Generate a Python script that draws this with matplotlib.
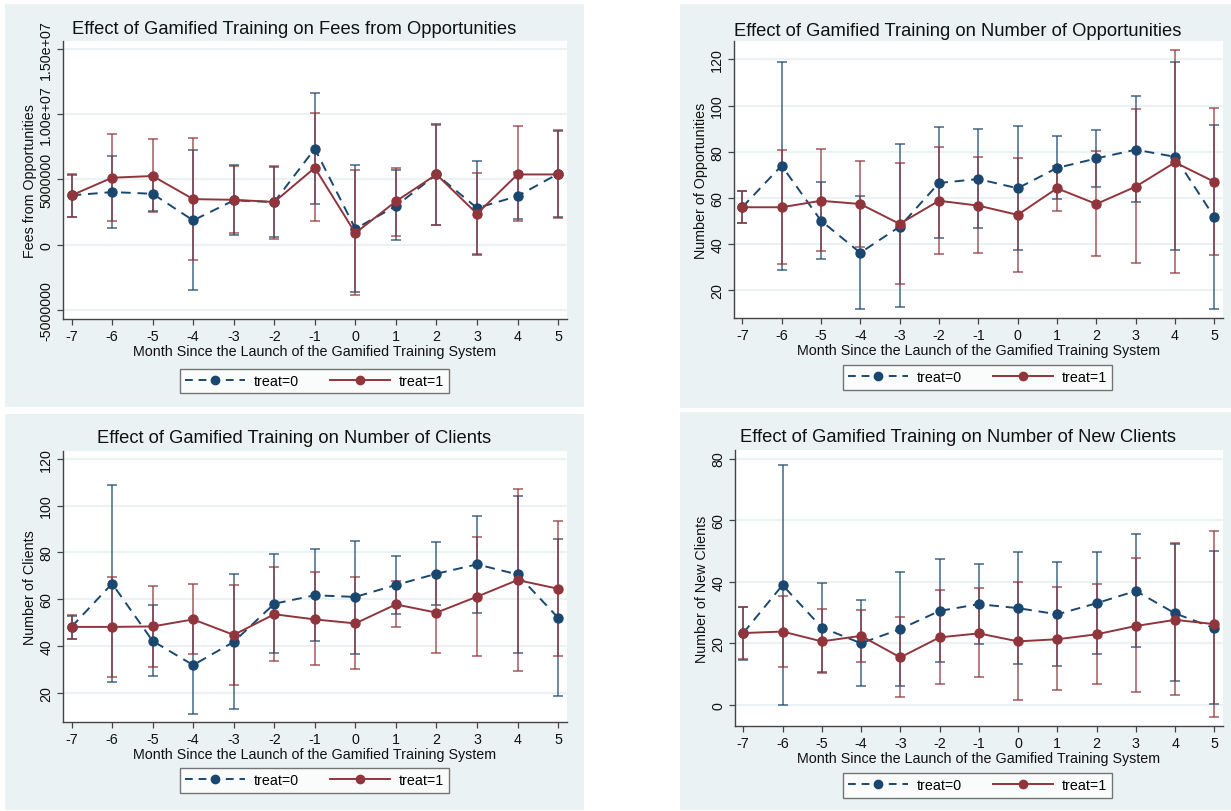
import matplotlib
matplotlib.use('Agg')
import matplotlib.pyplot as plt
from matplotlib.patches import Rectangle
from matplotlib.lines import Line2D

plt.rcParams['font.family'] = ['Liberation Sans', 'DejaVu Sans']

# ---- data ----
months = [-7, -6, -5, -4, -3, -2, -1, 0, 1, 2, 3, 4, 5]

# Fees from Opportunities
fees_t0 = [3.78e6, 4.03e6, 3.90e6, 1.86e6, 3.39e6, 3.27e6, 7.35e6, 1.22e6, 2.96e6, 5.38e6, 2.81e6, 3.72e6, 5.43e6]
fees_t0_lo = [2.12e6, 1.28e6, 2.55e6, -3.44e6, 0.71e6, 0.59e6, 3.09e6, -3.62e6, 0.33e6, 1.53e6, -0.77e6, 1.94e6, 2.12e6]
fees_t0_hi = [5.30e6, 6.79e6, 5.30e6, 7.22e6, 6.07e6, 5.94e6, 11.6e6, 6.12e6, 5.74e6, 9.26e6, 6.40e6, 5.56e6, 8.70e6]
fees_t1 = [3.78e6, 5.13e6, 5.26e6, 3.49e6, 3.44e6, 3.27e6, 5.89e6, 0.89e6, 3.32e6, 5.38e6, 2.37e6, 5.38e6, 5.38e6]
fees_t1_lo = [2.12e6, 1.79e6, 2.50e6, -1.15e6, 0.92e6, 0.46e6, 1.79e6, -3.88e6, 0.66e6, 1.53e6, -0.69e6, 1.79e6, 2.04e6]
fees_t1_hi = [5.43e6, 8.50e6, 8.06e6, 8.16e6, 6.02e6, 6.02e6, 10.1e6, 5.74e6, 5.89e6, 9.20e6, 5.51e6, 9.08e6, 8.75e6]

# Number of Opportunities
opp_t0 = [56, 74, 50.2, 36.3, 47.6, 66.5, 68.2, 64.2, 73, 77.1, 80.9, 77.8, 51.7]
opp_t0_lo = [49, 29, 33.7, 12.1, 12.8, 42.6, 46.9, 37.3, 59.6, 64.9, 58.1, 37.3, 11.8]
opp_t0_hi = [63, 118.8, 67, 60.7, 83.3, 90.5, 89.8, 91.2, 86.6, 89.5, 103.9, 118.8, 91.5]
opp_t1 = [56, 56, 58.8, 57.4, 48.8, 58.8, 56.7, 52.7, 64.2, 57.4, 64.9, 75.4, 67]
opp_t1_lo = [49.2, 31.5, 37, 38.7, 22.9, 35.8, 36.1, 28.2, 54.2, 34.7, 31.8, 27.5, 35.4]
opp_t1_hi = [63.2, 80.9, 81.2, 76.1, 75, 82.2, 77.8, 77.1, 74, 80.4, 98.4, 123.9, 98.8]

# Number of Clients
cli_t0 = [48.2, 66.7, 42.2, 31.9, 41.8, 58.1, 61.7, 61, 66.1, 70.9, 74.9, 70.6, 52.1]
cli_t0_lo = [43, 24.7, 27.3, 11.2, 13, 37.2, 42.2, 36.8, 53.9, 57.4, 54.3, 37.2, 18.7]
cli_t0_hi = [53, 108.8, 57.6, 52, 70.9, 79.5, 81.3, 84.9, 78.5, 84.6, 95.5, 104.1, 85.6]
cli_t1 = [48.2, 48.2, 48.4, 51.4, 44.8, 53.6, 51.4, 49.7, 57.8, 54.3, 61.1, 68.2, 64.5]
cli_t1_lo = [42.9, 26.8, 31.1, 36.5, 23.4, 33.7, 31.9, 30.1, 48.2, 37.2, 35.8, 29.4, 35.8]
cli_t1_hi = [53.3, 69.5, 65.7, 66.4, 66.1, 73.9, 71.6, 69.6, 67.8, 70.6, 86.7, 107.2, 93.4]

# Number of New Clients
new_t0 = [23.3, 38.9, 25.1, 20, 24.6, 30.5, 32.7, 31.4, 29.4, 33, 37, 29.7, 24.9]
new_t0_lo = [14.7, 0, 10.7, 6.2, 6.2, 14, 19.9, 13.4, 12.7, 16.5, 18.9, 7.8, 0.4]
new_t0_hi = [31.8, 77.8, 39.5, 34.1, 43.2, 47.3, 45.7, 49.7, 46.4, 49.8, 55.4, 52.2, 50]
new_t1 = [23.3, 23.8, 20.6, 22.4, 15.4, 21.9, 23.2, 20.6, 21.3, 22.9, 25.6, 27.6, 26.2]
new_t1_lo = [14.8, 12.4, 10.3, 14, 2.6, 6.9, 8.9, 1.5, 4.8, 6.9, 4, 3.1, -4.1]
new_t1_hi = [31.9, 35.2, 31.1, 30.7, 28.4, 37.3, 37.8, 40, 38.3, 39.2, 47.6, 52.5, 56.5]

navy = '#1a476f'
maroon = '#90353b'
bgcol = '#eaf2f3'
W, H = 1231, 812

fig = plt.figure(figsize=(W / 100, H / 100), dpi=100)
fig.patch.set_facecolor('white')


def fx(x):
    return x / W


def fy(y):
    return 1 - y / H


def panel(bg, axbox, title, title_xy, ylabel, yticks, yticklabels, ylim,
          t0, t0_lo, t0_hi, t1, t1_lo, t1_hi, leg):
    x0, y0, x1, y1 = bg
    fig.patches.append(Rectangle((fx(x0), fy(y1)), (x1 - x0) / W, (y1 - y0) / H,
                                 transform=fig.transFigure, facecolor=bgcol,
                                 edgecolor='none', zorder=-5))
    a0, b0, a1, b1 = axbox
    ax = fig.add_axes([fx(a0), fy(b1), (a1 - a0) / W, (b1 - b0) / H])
    ax.set_facecolor('white')

    for y in yticks:
        ax.axhline(y, color=bgcol, lw=1.5, zorder=0)

    # confidence intervals
    ax.errorbar(months, t0, yerr=[[m - l for m, l in zip(t0, t0_lo)], [h - m for m, h in zip(t0, t0_hi)]],
                fmt='none', ecolor=navy, elinewidth=1.2, capsize=3.5, capthick=1.2, alpha=0.75, zorder=2)
    ax.errorbar(months, t1, yerr=[[m - l for m, l in zip(t1, t1_lo)], [h - m for m, h in zip(t1, t1_hi)]],
                fmt='none', ecolor=maroon, elinewidth=1.2, capsize=3.5, capthick=1.2, alpha=0.75, zorder=2)

    ax.plot(months, t0, color=navy, lw=1.4, linestyle=(0, (5, 3.5)), marker='o', markersize=6.5, zorder=3)
    ax.plot(months, t1, color=maroon, lw=1.4, linestyle='-', marker='o', markersize=6.5, zorder=4)

    ax.set_xlim(-7.21, 5.22)
    ax.set_ylim(*ylim)
    ax.set_xticks(months)
    ax.set_xticklabels([str(m) for m in months])
    ax.set_yticks(yticks)
    ax.set_yticklabels(yticklabels, rotation=90, va='center')
    for s in ['top', 'right']:
        ax.spines[s].set_visible(False)
    for s in ['left', 'bottom']:
        ax.spines[s].set_color('#444444')
        ax.spines[s].set_linewidth(1.0)
    ax.tick_params(axis='both', direction='out', length=4, width=0.9, color='#444444',
                   labelsize=10.3, labelcolor='#111111', pad=3)

    fig.text(fx(title_xy[0]), fy(title_xy[1]), title, ha='center', va='center', fontsize=13.2, color='#111111')
    fig.text(fx((a0 + a1) / 2), fy(b1 + 32),
             'Month Since the Launch of the Gamified Training System',
             ha='center', va='center', fontsize=10.3, color='#111111')
    fig.text(fx(a0 - 33), fy((b0 + b1) / 2), ylabel, rotation=90, ha='center', va='center',
             fontsize=10.3, color='#111111')

    # legend
    h0 = Line2D([], [], color=navy, lw=1.4, linestyle=(0, (4, 3)), marker='o', markersize=6)
    h1 = Line2D([], [], color=maroon, lw=1.4, linestyle='-', marker='o', markersize=6)
    lx0, ly0, lx1, ly1 = leg
    lg = fig.legend([h0, h1], ['treat=0', 'treat=1'], ncol=2, loc='center',
                    bbox_to_anchor=(fx((lx0 + lx1) / 2), fy((ly0 + ly1) / 2)),
                    frameon=True, fancybox=False, fontsize=10.3, handlelength=4.2,
                    columnspacing=2.2, handletextpad=0.6, borderpad=0.35)
    lg.get_frame().set_edgecolor('#555555')
    lg.get_frame().set_linewidth(1.0)
    return ax


panel((5, 5, 584, 408), (63, 42, 567, 320),
      'Effect of Gamified Training on Fees from Opportunities', (294, 30),
      'Fees from Opportunities',
      [-5e6, 0, 5e6, 1e7, 1.5e7], ['-5000000', '0', '5000000', '1.00e+07', '1.50e+07'],
      (-5.69e6, 1.56e7),
      fees_t0, fees_t0_lo, fees_t0_hi, fees_t1, fees_t1_lo, fees_t1_hi,
      (187, 372, 442, 392))

panel((680, 5, 1231, 409), (734, 42, 1223, 319),
      'Effect of Gamified Training on Number of Opportunities', (958, 31),
      'Number of Opportunities',
      [20, 40, 60, 80, 100, 120], ['20', '40', '60', '80', '100', '120'],
      (8.1, 127.9),
      opp_t0, opp_t0_lo, opp_t0_hi, opp_t1, opp_t1_lo, opp_t1_hi,
      (855, 366, 1100, 391))

panel((5, 415, 584, 811), (63, 452, 567, 723),
      'Effect of Gamified Training on Number of Clients', (294, 439),
      'Number of Clients',
      [20, 40, 60, 80, 100, 120], ['20', '40', '60', '80', '100', '120'],
      (7.6, 123.3),
      cli_t0, cli_t0_lo, cli_t0_hi, cli_t1, cli_t1_lo, cli_t1_hi,
      (187, 771, 442, 792))

panel((680, 413, 1231, 811), (735, 451, 1223, 727),
      'Effect of Gamified Training on Number of New Clients', (958, 438),
      'Number of New Clients',
      [0, 20, 40, 60, 80], ['0', '20', '40', '60', '80'],
      (-6.9, 82.8),
      new_t0, new_t0_lo, new_t0_hi, new_t1, new_t1_lo, new_t1_hi,
      (855, 775, 1100, 798))

fig.savefig('out.png', dpi=100)
